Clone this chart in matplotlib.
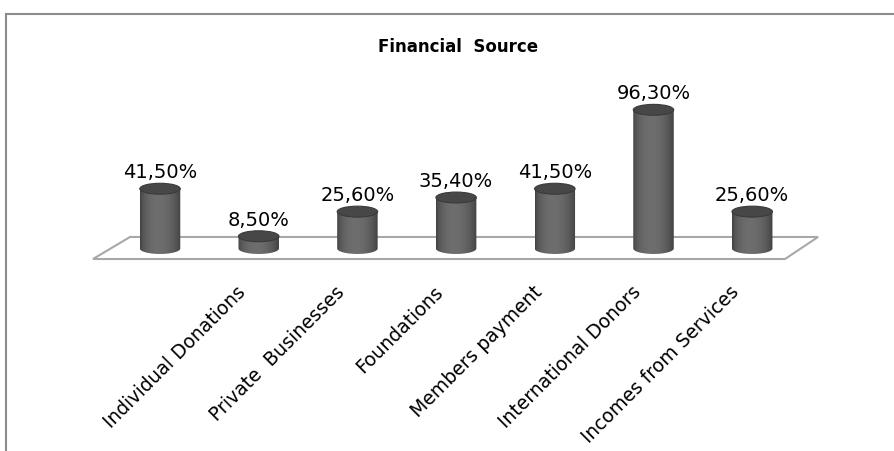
import matplotlib
matplotlib.use("Agg")
import matplotlib.pyplot as plt
import numpy as np
from matplotlib.patches import Polygon, Ellipse
from matplotlib.lines import Line2D

# seven bars but only six category labels in the original chart
categories = ["Individual Donations", "Private  Businesses", "Foundations",
              "Members payment", "International Donors", "Incomes from Services"]
values = [41.5, 8.5, 25.6, 35.4, 41.5, 96.3, 25.6]
value_labels = ["41,50%", "8,50%", "25,60%", "35,40%", "41,50%", "96,30%", "25,60%"]

fig = plt.figure(figsize=(8.94, 4.52), dpi=100)
ax = fig.add_axes([0.0686, 0.3843, 0.8832, 0.3982])
ax.set_xlim(-1, 7)
ax.set_ylim(-20, 105)
ax.axis("off")

# floor of the 3d plot area
floor = Polygon([(-0.679, -7.3), (-0.304, 8.0), (6.667, 8.0), (6.332, -7.3)],
                closed=True, facecolor="white", edgecolor="#a8a8a8", lw=1.5, zorder=1)
ax.add_patch(floor)

w = 0.41
eh = 7.6
xs = np.arange(len(values))
bars = ax.bar(xs, values, width=w, color="none", zorder=2)

t = np.linspace(0, 1, 200)
shade = 0.23 + 0.2 * np.sin(np.pi * t ** 0.85) ** 0.6
grad = np.dstack([shade, shade, shade])[0][None, :, :]

for b, v in zip(bars, values):
    x0 = b.get_x()
    xc = x0 + w / 2
    th = np.linspace(np.pi, 2 * np.pi, 60)
    arc_x = xc + w / 2 * np.cos(th)
    arc_y = eh / 2 * np.sin(th)
    pts = [(x0, v)] + list(zip(arc_x, arc_y)) + [(x0 + w, v)]
    body = Polygon(pts, closed=True, facecolor="none", edgecolor="none", zorder=3)
    ax.add_patch(body)
    im = ax.imshow(grad, extent=(x0, x0 + w, -eh / 2, v), aspect="auto",
                   origin="lower", zorder=3, interpolation="bilinear")
    im.set_clip_path(body)
    top = Ellipse((xc, v), w, eh, facecolor="#474747", edgecolor="#3a3a3a",
                  lw=0.8, zorder=4)
    ax.add_patch(top)

for xc, v, s in zip(xs, values, value_labels):
    ax.annotate(s, (xc, v + eh / 2), xytext=(0, 4.5), textcoords="offset points",
                ha="center", va="baseline", fontsize=14, color="black",
                annotation_clip=False, zorder=5)

for i, s in enumerate(categories):
    ax.text(i + 0.88, -30.2, s, rotation=45, rotation_mode="anchor",
            ha="right", va="baseline", fontsize=13.5, color="black", clip_on=False)

fig.text(458 / 894, 1 - 47 / 452, "Financial  Source", ha="center", va="center",
         fontsize=12, fontweight="bold")

fig.add_artist(Line2D([6 / 894, 1], [1 - 15 / 452] * 2, color="#8c8c8c", lw=1.5,
                      transform=fig.transFigure))
fig.add_artist(Line2D([6 / 894] * 2, [0, 1 - 15 / 452], color="#8c8c8c", lw=1.5,
                      transform=fig.transFigure))

fig.savefig("out.png", dpi=100)
